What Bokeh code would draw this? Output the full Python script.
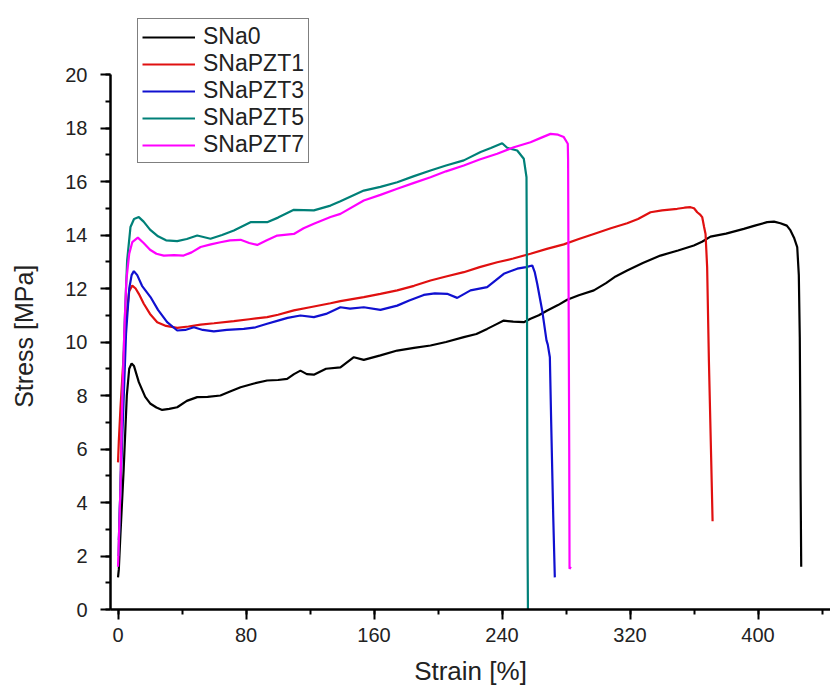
from bokeh.plotting import figure
from bokeh.models import SingleIntervalTicker, Legend, LegendItem, Range1d
from bokeh.embed import file_html
from bokeh.resources import INLINE

# ---- data ----
sna0_x = [0, 0.5, 1.5, 3.5, 5.5, 7, 8.5, 10, 13, 17, 20.3, 24, 27.6, 32, 37, 43, 49.5, 56, 64, 70, 76.6, 85, 93.2, 100,
          105.7, 110, 114, 118, 122.4, 130, 139, 147.4, 153.6, 164, 174.5, 185, 195.3, 205, 216.1, 224, 230.7, 236,
          241.1, 247, 253.6, 257.8, 263, 268.3, 275, 280.7, 288, 297.4, 305, 311, 318.2, 328, 339, 350, 359.9, 365,
          370.3, 380, 391.1, 398, 405.7, 410, 414, 418, 420.3, 422.5, 424.5, 425.5, 426.1, 426.4, 426.6, 427]
sna0_y = [1.2, 1.5, 2.8, 5.2, 8.0, 9.0, 9.2, 9.1, 8.5, 7.95, 7.69, 7.55, 7.46, 7.5, 7.56, 7.8, 7.94, 7.95, 8.0, 8.15,
          8.31, 8.45, 8.56, 8.58, 8.62, 8.8, 8.93, 8.8, 8.78, 9.0, 9.05, 9.43, 9.33, 9.5, 9.68, 9.78, 9.87, 10.0, 10.18,
          10.3, 10.49, 10.65, 10.8, 10.76, 10.74, 10.87, 11.0, 11.18, 11.38, 11.58, 11.75, 11.93, 12.2, 12.45, 12.67,
          12.95, 13.23, 13.42, 13.61, 13.75, 13.94, 14.05, 14.23, 14.35, 14.48, 14.5, 14.44, 14.35, 14.17, 13.9, 13.55,
          12.5, 10.18, 7.5, 4.82, 1.6]

pzt1_x = [0, 0.5, 1.5, 3, 5, 7, 8.9, 11, 13, 16.1, 20, 24.5, 30, 37, 44, 51.6, 60, 72.4, 82, 93.2, 100, 109.9, 120,
          132.8, 139, 153.6, 164, 174.5, 185, 195.3, 205, 216.1, 226, 237, 247, 257.8, 268, 278.6, 288, 297.4, 308,
          318.2, 325, 332.8, 340, 349.5, 354, 357.8, 360, 362, 364, 365.1, 366.3, 367.2, 368.2, 369.3, 370.7, 371.6]
pzt1_y = [5.5, 6.3, 7.5, 9.0, 10.8, 11.9, 12.11, 12.0, 11.8, 11.43, 11.05, 10.74, 10.6, 10.53, 10.58, 10.65, 10.7,
          10.78, 10.85, 10.93, 11.02, 11.18, 11.3, 11.45, 11.53, 11.68, 11.8, 11.93, 12.1, 12.3, 12.45, 12.61, 12.8,
          12.98, 13.12, 13.3, 13.48, 13.65, 13.85, 14.04, 14.25, 14.44, 14.6, 14.85, 14.92, 14.98, 15.02, 15.04, 15.0,
          14.85, 14.75, 14.67, 14.3, 14.04, 12.8, 9.31, 5.69, 3.3]

pzt3_x = [0.5, 1.5, 3, 5, 7, 8.5, 9.9, 12, 15, 20.3, 25, 30.7, 37, 42, 47.4, 53, 59.9, 68, 78.6, 86, 93.2, 100, 106,
          114, 122.4, 130, 139, 145, 153.6, 164, 174.5, 182, 191.1, 198, 205.7, 212, 220.3, 230.7, 236, 241.1, 249.5,
          255, 258.9, 260.5, 262, 265.1, 267.8, 268.6, 269.9, 270.7, 272, 273]
pzt3_y = [2.6, 4.5, 7.0, 10.3, 12.0, 12.5, 12.65, 12.5, 12.1, 11.68, 11.2, 10.74, 10.43, 10.45, 10.55, 10.45, 10.4,
          10.45, 10.49, 10.55, 10.68, 10.8, 10.9, 10.99, 10.93, 11.05, 11.3, 11.25, 11.3, 11.2, 11.36, 11.55, 11.76,
          11.82, 11.8, 11.65, 11.93, 12.05, 12.3, 12.55, 12.74, 12.8, 12.86, 12.6, 12.18, 11.18, 10.06, 9.9, 9.43,
          7.07, 3.5, 1.2]

pzt5_x = [0.3, 1.5, 2.5, 4, 5.7, 7.8, 10, 13, 16, 20, 25, 30, 37, 43, 49.5, 57.8, 65, 72.4, 82.8, 93.2, 100, 109.9,
          122.4, 132.8, 139, 153.6, 164, 174.5, 185, 195.3, 205, 216.1, 226.6, 233, 240.1, 243.2, 249.5, 253.6, 255.3,
          255.6, 255.8, 256, 256.2]
pzt5_y = [2.0, 4.5, 7.5, 10.5, 13.05, 14.3, 14.6, 14.67, 14.5, 14.2, 13.95, 13.8, 13.77, 13.85, 13.98, 13.86, 14.0,
          14.17, 14.48, 14.48, 14.65, 14.94, 14.92, 15.1, 15.26, 15.66, 15.8, 15.97, 16.2, 16.41, 16.6, 16.79, 17.1,
          17.25, 17.43, 17.26, 17.16, 16.85, 16.16, 12.0, 6.0, 2.0, 0.0]

pzt7_x = [0, 1.5, 2.5, 4, 5.2, 7, 8.9, 12.4, 16, 20, 24, 28.6, 35, 41, 46, 51.6, 58, 64, 70, 76.6, 82, 87, 93, 99.5,
          109.9, 116, 122.4, 132.8, 139, 153.6, 164, 174.5, 185, 195.3, 205, 216.1, 226, 237, 247.4, 257.8, 265, 270.3,
          275, 278.6, 281.1, 281.3, 281.6, 282, 282.2, 283]
pzt7_y = [1.6, 4.5, 7.5, 10.5, 12.3, 13.3, 13.73, 13.9, 13.7, 13.45, 13.3, 13.23, 13.25, 13.23, 13.35, 13.55, 13.65,
          13.73, 13.8, 13.82, 13.7, 13.63, 13.8, 13.98, 14.04, 14.25, 14.42, 14.67, 14.79, 15.29, 15.5, 15.73, 15.95,
          16.16, 16.38, 16.6, 16.82, 17.04, 17.28, 17.47, 17.65, 17.78, 17.75, 17.66, 17.41, 16.8, 12.0, 6.0, 1.52, 1.6]

names = ["SNa0", "SNaPZT1", "SNaPZT3", "SNaPZT5", "SNaPZT7"]
colors = ["#000000", "#e01010", "#1010d0", "#008078", "#ff00ff"]
series = [(sna0_x, sna0_y), (pzt1_x, pzt1_y), (pzt3_x, pzt3_y), (pzt5_x, pzt5_y), (pzt7_x, pzt7_y)]

FONT = "Liberation Sans"
PX_PER_UNIT = 26.75
FRAME_H = 602

# trailing non-breaking spaces shift the rotated label down so it centres on the 0-20 axis
ylabel = "Stress [MPa]" + "\u00a0" * 8

p = figure(frame_width=720, frame_height=FRAME_H, output_backend="svg", toolbar_location=None,
           x_range=Range1d(-4.7, 445.3), y_range=Range1d(0, FRAME_H / PX_PER_UNIT),
           min_border_left=110, min_border_right=0, min_border_top=7, min_border_bottom=79,
           x_axis_label="Strain [%]", y_axis_label=ylabel)
p.outline_line_color = None
p.xgrid.visible = False
p.ygrid.visible = False
p.background_fill_color = "white"
p.border_fill_color = "white"

p.xaxis.ticker = SingleIntervalTicker(interval=80, num_minor_ticks=2)
p.yaxis.ticker = SingleIntervalTicker(interval=2, num_minor_ticks=2)
p.yaxis.bounds = (0, 20)

for ax in (p.xaxis, p.yaxis):
    ax.axis_line_width = 2.5
    ax.axis_line_color = "black"
    ax.major_tick_line_width = 2
    ax.minor_tick_line_width = 2
    ax.major_tick_line_color = "black"
    ax.minor_tick_line_color = "black"
    ax.major_tick_in = 0
    ax.minor_tick_in = 0
    ax.major_tick_out = 10
    ax.minor_tick_out = 5
    ax.major_label_text_font = FONT
    ax.major_label_text_font_size = "20px"
    ax.major_label_text_color = "#222222"
    ax.axis_label_text_font = FONT
    ax.axis_label_text_font_style = "normal"
    ax.axis_label_text_color = "#222222"

p.xaxis.axis_label_text_font_size = "26px"
p.yaxis.axis_label_text_font_size = "25px"
p.xaxis.major_label_standoff = 8
p.yaxis.major_label_standoff = 13
p.xaxis.axis_label_standoff = 11
p.yaxis.axis_label_standoff = 24

items = []
for name, col, (xs, ys) in zip(names, colors, series):
    r = p.line(xs, ys, line_color=col, line_width=2.2)
    items.append(LegendItem(label=name, renderers=[r]))

legend = Legend(items=items, location=(27, 446), margin=0,
                label_text_font=FONT, label_text_font_size="23px", label_text_color="#222222",
                glyph_width=53, glyph_height=22, label_height=22, label_standoff=8,
                spacing=0, padding=4,
                border_line_color="black", border_line_width=1.5,
                background_fill_color="white", background_fill_alpha=1.0)
p.add_layout(legend, "center")

open("out.html", "w").write(file_html(p, INLINE))
